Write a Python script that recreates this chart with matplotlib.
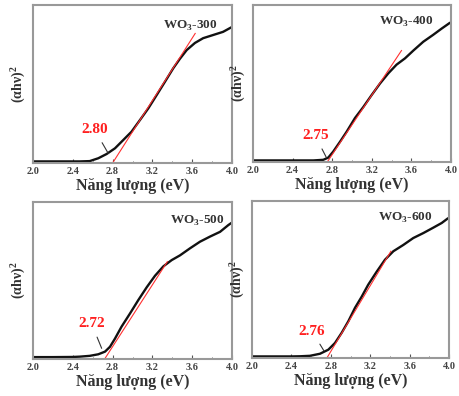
import matplotlib
matplotlib.use("Agg")
import matplotlib.pyplot as plt
import numpy as np

plt.rcParams['font.family'] = ['Liberation Serif', 'DejaVu Serif']
plt.rcParams['mathtext.fontset'] = 'custom'
plt.rcParams['mathtext.rm'] = 'Liberation Serif:bold'
plt.rcParams['mathtext.bf'] = 'Liberation Serif:bold'

# ---- data (y normalised 0..1) ----
names = ["WO$_3$-300", "WO$_3$-400", "WO$_3$-500", "WO$_3$-600"]
gaps = [2.80, 2.75, 2.72, 2.76]
gap_labels = ["2.80", "2.75", "2.72", "2.76"]

x300 = [2.0, 2.2, 2.4, 2.47, 2.57, 2.656, 2.74, 2.824, 2.908, 2.99, 3.075, 3.159, 3.243,
        3.327, 3.41, 3.477, 3.545, 3.628, 3.71, 3.81, 3.91, 3.997]
y300 = [0.01, 0.01, 0.01, 0.01, 0.012, 0.03, 0.057, 0.093, 0.146, 0.198, 0.272, 0.346, 0.43,
        0.515, 0.60, 0.66, 0.715, 0.76, 0.79, 0.81, 0.83, 0.86]

x400 = [2.0, 2.2, 2.4, 2.475, 2.61, 2.71, 2.76, 2.81, 2.88, 2.946, 3.03, 3.114, 3.199,
        3.283, 3.367, 3.45, 3.535, 3.62, 3.72, 3.82, 3.906, 3.99]
y400 = [0.01, 0.01, 0.01, 0.01, 0.01, 0.014, 0.028, 0.066, 0.13, 0.193, 0.28, 0.35, 0.427,
        0.50, 0.565, 0.62, 0.66, 0.71, 0.766, 0.81, 0.85, 0.887]

x500 = [2.0, 2.2, 2.4, 2.47, 2.57, 2.656, 2.724, 2.774, 2.824, 2.89, 2.975, 3.058, 3.143,
        3.226, 3.31, 3.394, 3.477, 3.578, 3.678, 3.78, 3.88, 3.963, 3.997]
y500 = [0.012, 0.012, 0.013, 0.015, 0.02, 0.03, 0.047, 0.078, 0.13, 0.206, 0.29, 0.375, 0.457,
        0.53, 0.59, 0.63, 0.66, 0.705, 0.747, 0.78, 0.81, 0.853, 0.868]

x600 = [2.0, 2.2, 2.4, 2.487, 2.589, 2.69, 2.775, 2.843, 2.91, 2.978, 3.046, 3.113, 3.18,
        3.266, 3.35, 3.435, 3.536, 3.637, 3.74, 3.84, 3.926, 3.99]
y600 = [0.01, 0.01, 0.01, 0.011, 0.014, 0.027, 0.053, 0.096, 0.16, 0.234, 0.32, 0.39, 0.467,
        0.55, 0.626, 0.68, 0.72, 0.764, 0.796, 0.83, 0.86, 0.89]

xs = [x300, x400, x500, x600]
ys = [y300, y400, y500, y600]

# tangent line end points (x_end, y_end); start at (gap, 0)
tan_end_x = [3.63, 3.50, 3.35, 3.41]
tan_end_y = [0.82, 0.71, 0.62, 0.68]

# label positions and arrow targets
lab_x = [2.62, 2.63, 2.59, 2.61]
lab_y = [0.21, 0.166, 0.223, 0.17]
arr_x = [2.757, 2.74, 2.69, 2.73]
arr_y = [0.06, 0.03, 0.068, 0.046]

name_x = [3.585, 3.55, 3.65, 3.56]
name_y = [0.87, 0.89, 0.88, 0.89]

xticks = [2.0, 2.4, 2.8, 3.2, 3.6, 4.0]
xticklabels = ["2.0", "2.4", "2.8", "3.2", "3.6", "4.0"]

W, H = 459, 396
fig = plt.figure(figsize=(W / 100, H / 100), dpi=100)
boxes = [(33, 232, 5, 163), (253, 451, 5, 162), (33, 232, 202, 359), (252, 449, 201, 358)]

for i, (l, r, t, b) in enumerate(boxes):
    ax = fig.add_axes([l / W, (H - b) / H, (r - l) / W, (b - t) / H])
    ax.plot(xs[i], ys[i], color='#111111', lw=1.7, solid_capstyle='round', solid_joinstyle='round')
    ax.plot([gaps[i], tan_end_x[i]], [0, tan_end_y[i]], color='#ff3030', lw=0.8)
    ax.annotate(gap_labels[i], xy=(arr_x[i], arr_y[i]), xytext=(lab_x[i], lab_y[i]),
                color='#ff2020', fontsize=11, fontweight='bold', ha='center', va='center',
                arrowprops=dict(arrowstyle='-', color='#333333', lw=0.8, shrinkA=3, shrinkB=0))
    ax.text(name_x[i], name_y[i], names[i], fontsize=9.5, fontweight='bold', color='#333333',
            ha='center', va='center')
    ax.set_xlim(2.0, 4.0)
    ax.set_ylim(0, 1.0)
    ax.set_xticks(xticks)
    ax.set_xticklabels(xticklabels, fontsize=7.5, fontweight='bold', color='#444444')
    ax.set_xticks(np.arange(2.2, 4.0, 0.4), minor=True)
    ax.set_yticks([])
    ax.tick_params(axis='x', which='major', direction='in', length=3, width=0.8, color='#555555', pad=3)
    ax.tick_params(axis='x', which='minor', direction='in', length=1.5, width=0.6, color='#555555')
    for s in ax.spines.values():
        s.set_color('#999999')
        s.set_linewidth(1.5)
    ax.set_xlabel("Năng lượng (eV)", fontsize=11.5, fontweight='bold', color='#333333', labelpad=1)
    ax.set_ylabel("(αhν)$^2$", fontsize=10, fontweight='bold', color='#333333', labelpad=4)

fig.savefig("out.png", dpi=100)
